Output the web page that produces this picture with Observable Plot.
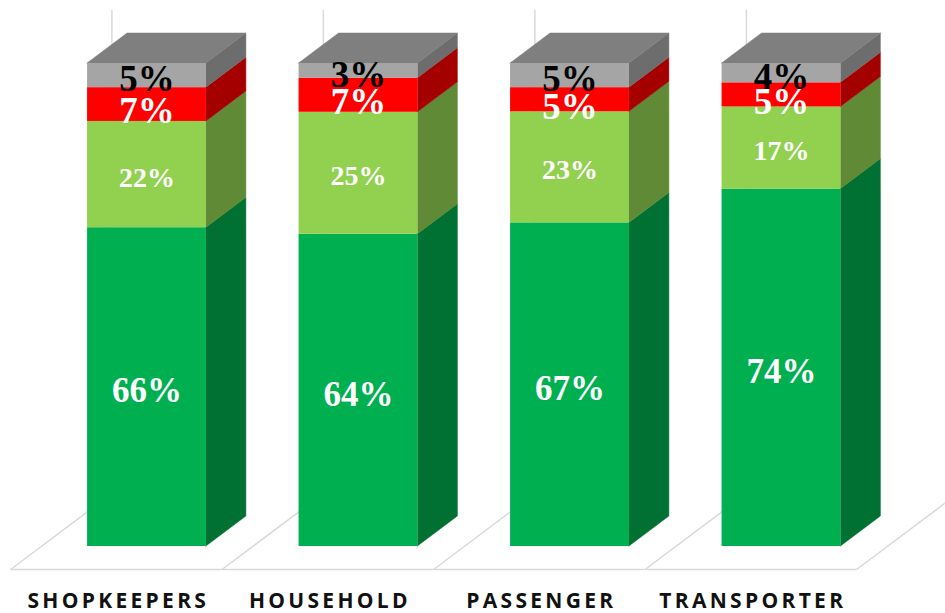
<!DOCTYPE html>
<html>
<head>
<meta charset="utf-8">
<script src="https://cdn.jsdelivr.net/npm/d3@7"></script>
<script src="https://cdn.jsdelivr.net/npm/@observablehq/plot@0.6"></script>
<style>
  html, body { margin: 0; padding: 0; background: #fff; }
</style>
</head>
<body>
<div id="chart"></div>
<script>
// ---- data ----
const categories = ["SHOPKEEPERS", "HOUSEHOLD", "PASSENGER", "TRANSPORTER"];
const darkGreen  = [66, 64, 67, 74];
const lightGreen = [22, 25, 23, 17];
const red        = [7, 7, 5, 5];
const gray       = [5, 3, 5, 4];

const seriesValues = [darkGreen, lightGreen, red, gray];
const frontColors = ["#00B050", "#92D050", "#FF0000", "#A5A5A5"];
const sideColors  = ["#007132", "#608A36", "#A50000", "#6D6D6D"];
const topColor = "#7F7F7F";
const labelColors = ["#fff", "#fff", "#fff", "#000"];
const labelSizes = [35, 28, 37, 37];
const labelDy = [4, 3, 7, 4];

// ---- geometry constants (data units) ----
const HW = 0.281;      // half width of a bar front
const DX = 0.189;      // bar depth in x
const DY = 6.21;       // bar depth in y
const FX = 0.145;      // floor margin in x
const FY = 4.76;       // floor margin in y

// ---- build stacked segments (normalised to 100%) ----
const segs = [];
categories.forEach((c, i) => {
  const total = seriesValues.reduce((s, arr) => s + arr[i], 0);
  let acc = 0;
  seriesValues.forEach((arr, s) => {
    const v = arr[i] * 100 / total;
    segs.push({cat: c, i, s, value: arr[i], y1: acc, y2: acc + v,
               front: frontColors[s], side: sideColors[s]});
    acc += v;
  });
});

const sidePts = segs.flatMap((d, k) => [
  {k, x: d.i + HW, y1: d.y1, y2: d.y2, fill: d.side},
  {k, x: d.i + HW + DX, y1: d.y1 + DY, y2: d.y2 + DY, fill: d.side}
]);
const tops = segs.filter(d => d.s === seriesValues.length - 1);
const topPts = tops.flatMap(d => [
  {k: d.i, y: d.y2, x1: d.i - HW, x2: d.i + HW},
  {k: d.i, y: d.y2 + DY, x1: d.i - HW + DX, x2: d.i + HW + DX}
]);

// floor
const bounds = d3.range(categories.length + 1).map(j => j - 0.5);
const floorFront = [{x1: bounds[0] - FX, x2: bounds[bounds.length - 1] - FX, y1: -FY, y2: -FY}];
const floorDiag = bounds.map(b => ({x1: b - FX, y1: -FY, x2: b - FX + 2 * FX + DX, y2: -FY + 2 * FY + DY}));
const wallLines = bounds.map(b => ({x: b + FX + DX, y1: FY + DY, y2: 111}));

const chart = Plot.plot({
  width: 945,
  height: 613,
  x: {domain: [0, 3], range: [146.5, 781], axis: null},
  y: {domain: [0, 100], range: [546, 63], axis: null},
  color: {type: "identity"},
  style: {background: "#fff", overflow: "visible"},
  marks: [
    Plot.ruleX(wallLines, {x: "x", y1: "y1", y2: "y2", stroke: "#D9D9D9", strokeWidth: 1.5}),
    Plot.link(floorDiag, {x1: "x1", y1: "y1", x2: "x2", y2: "y2", stroke: "#D9D9D9", strokeWidth: 1.5}),
    Plot.link(floorFront, {x1: "x1", y1: "y1", x2: "x2", y2: "y2", stroke: "#D9D9D9", strokeWidth: 1.5}),
    Plot.areaY(sidePts, {x: "x", y1: "y1", y2: "y2", z: "k", fill: "fill", stroke: "fill", strokeWidth: 0.5}),
    Plot.areaX(topPts, {y: "y", x1: "x1", x2: "x2", z: "k", fill: topColor, stroke: topColor, strokeWidth: 0.5}),
    Plot.rect(segs, {x1: d => d.i - HW, x2: d => d.i + HW, y1: "y1", y2: "y2", fill: "front"}),
    ...[0, 1, 2, 3].map(s => Plot.text(segs.filter(d => d.s === s), {
      x: "i", y: d => (d.y1 + d.y2) / 2, text: d => d.value + "%",
      fill: labelColors[s], fontSize: labelSizes[s],
      fontFamily: "Liberation Serif", fontWeight: "bold", dy: labelDy[s]
    })),
    Plot.text(categories, {
      x: (d, i) => i - FX, y: -11.4, text: d => d, dy: 0, dx: 2,
      fontFamily: "Open Sans", fontWeight: "bold", fontSize: 21, fill: "#111"
    })
  ]
});
d3.select(chart).selectAll("text")
  .filter(function () { return categories.includes(this.textContent); })
  .style("letter-spacing", "3.3px");
document.getElementById("chart").appendChild(chart);
</script>
</body>
</html>
